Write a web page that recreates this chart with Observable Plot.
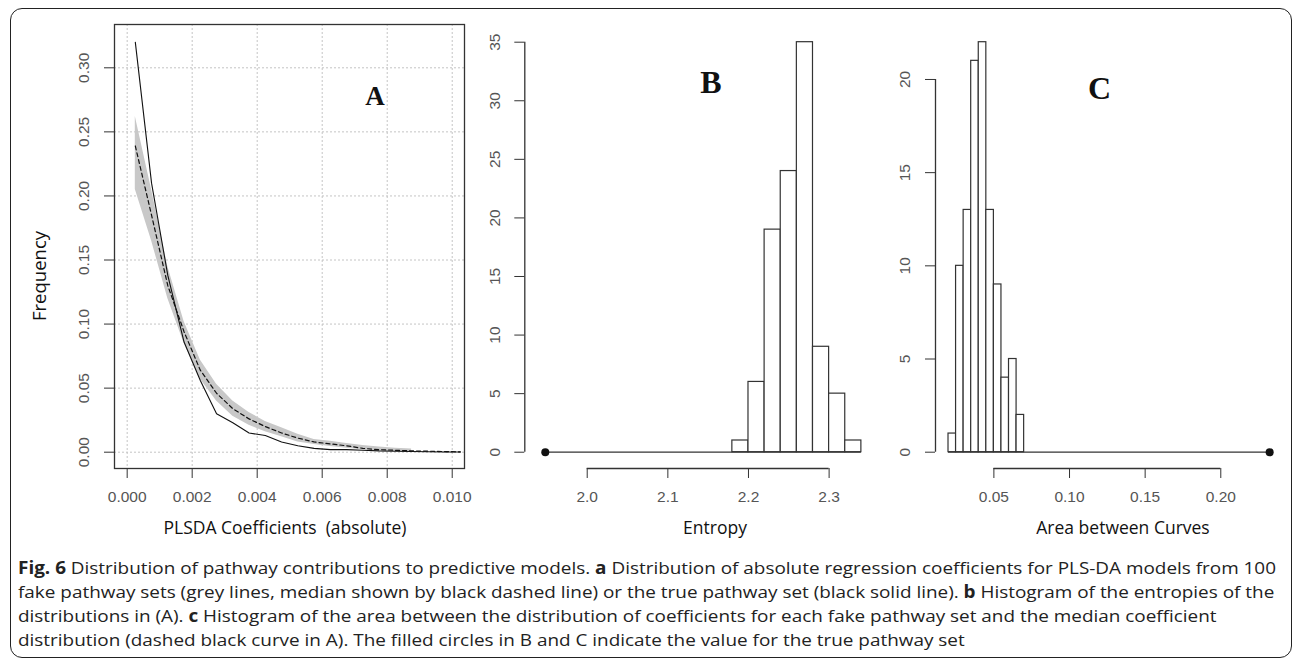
<!DOCTYPE html>
<html><head><meta charset="utf-8">
<script src="https://cdn.jsdelivr.net/npm/d3@7"></script>
<script src="https://cdn.jsdelivr.net/npm/@observablehq/plot@0.6"></script>
<style>
html,body{margin:0;padding:0;background:#fff;}
#root{position:relative;width:1295px;height:664px;overflow:hidden;background:#fff;}
#border{position:absolute;left:10px;top:8px;width:1282px;height:650px;border:1.5px solid #222;border-radius:12px;box-sizing:border-box;}
.panel{position:absolute;top:0;}
#overlay{position:absolute;left:0;top:0;}
</style></head><body><div id="root"><div id="border"></div></div>
<script>
// ---------- Panel A data ----------
const xA = [0.00025,0.00075,0.00125,0.00175,0.00225,0.00275,0.00325,0.00375,0.00425,0.00475,0.00525,0.00575,0.00625,0.00675,0.00725,0.00775,0.00825,0.00875,0.00925,0.00975,0.01025];
const trueA = [0.320,0.210,0.138,0.086,0.056,0.030,0.023,0.015,0.013,0.008,0.005,0.003,0.002,0.002,0.0015,0.001,0.0008,0.0005,0.0003,0.0002,0.0001];
const medianA = [0.239,0.185,0.130,0.094,0.064,0.046,0.034,0.026,0.020,0.015,0.011,0.008,0.0065,0.005,0.003,0.002,0.0015,0.001,0.0008,0.0005,0.0003];
const fakeLoA = [0.205,0.165,0.120,0.085,0.057,0.040,0.028,0.021,0.016,0.012,0.008,0.006,0.0045,0.003,0.002,0.0012,0.0008,0.0005];
const fakeHiA = [0.262,0.205,0.145,0.102,0.072,0.053,0.040,0.031,0.024,0.019,0.014,0.010,0.0085,0.0068,0.0052,0.004,0.003,0.0025];
const xTicksA = [0,0.002,0.004,0.006,0.008,0.010];
const yTicksA = [0,0.05,0.10,0.15,0.20,0.25,0.30];

// ---------- Panel B data ----------
const binEdgesB = [2.18,2.20,2.22,2.24,2.26,2.28,2.30,2.32,2.34];
const countsB = [1,6,19,24,35,9,5,1];
const trueB = 1.948;
const xTicksB = [2.0,2.1,2.2,2.3];
const yTicksB = [0,5,10,15,20,25,30,35];

// ---------- Panel C data ----------
const binEdgesC = [0.020,0.025,0.030,0.035,0.040,0.045,0.050,0.055,0.060,0.065,0.070];
const countsC = [1,10,13,21,22,13,9,4,5,2];
const trueC = 0.2323;
const xTicksC = [0.05,0.10,0.15,0.20];
const yTicksC = [0,5,10,15,20];

const tickFamily = "'Liberation Sans', Arial, sans-serif";
const tickColor = "#555";
const axisColor = "#333";
const tickFS = 15.5;

function baseStyle(){
  return {background:"transparent", fontFamily:tickFamily, fontSize:tickFS+"px", color:axisColor, overflow:"visible"};
}
function yLabels(ticks, fmt){
  return Plot.text(ticks, {y:d=>d, text:fmt, frameAnchor:"left", textAnchor:"middle", lineAnchor:"middle", dx:-30, rotate:-90, fill:tickColor, fontSize:tickFS});
}
function xAxis(ticks, fmt){
  return Plot.axisX({ticks, tickSize:10, tickPadding:12, tickFormat:fmt, label:null, fill:tickColor, stroke:axisColor, fontSize:tickFS});
}

const root = document.getElementById("root");
function place(svg, left){ svg.classList.add("panel"); svg.style.left = left+"px"; root.appendChild(svg); }

// Panel A
const linesA = xA.map((x,i)=>({x, t:trueA[i], m:medianA[i]}));
const bandA = fakeLoA.map((lo,i)=>({x:xA[i], lo, hi:fakeHiA[i]}));
const plotA = Plot.plot({
  width:480, height:540, marginLeft:114, marginRight:16, marginTop:24, marginBottom:72,
  style: baseStyle(),
  x:{domain:[-0.00039,0.010378]},
  y:{domain:[-0.01272,0.3338]},
  marks:[
    Plot.gridX({ticks:xTicksA, stroke:"#c4c4c4", strokeOpacity:1, strokeDasharray:"2,2"}),
    Plot.gridY({ticks:yTicksA, stroke:"#c4c4c4", strokeOpacity:1, strokeDasharray:"2,2"}),
    Plot.areaY(bandA, {x:"x", y1:"lo", y2:"hi", fill:"#c8c8c8"}),
    Plot.line(linesA, {x:"x", y:"t", stroke:"#111", strokeWidth:1.1}),
    Plot.line(linesA, {x:"x", y:"m", stroke:"#111", strokeWidth:1.2, strokeDasharray:"4,3"}),
    Plot.frame({stroke:axisColor, strokeWidth:1.3}),
    xAxis(xTicksA, d3.format(".3f")),
    Plot.axisY({ticks:yTicksA, tickSize:10, tickFormat:()=>"", label:null, stroke:axisColor}),
    yLabels(yTicksA, d3.format(".2f"))
  ]
});
place(plotA, 0);

// Panel B
const rectsB = countsB.map((n,i)=>({x1:binEdgesB[i], x2:binEdgesB[i+1], n}));
const xDomB = [1.9226, 2.36], yDomB = [-1.39, 36.51];
const plotB = Plot.plot({
  width:420, height:540, marginLeft:44.3, marginRight:23, marginTop:24, marginBottom:72,
  style: baseStyle(),
  x:{domain:xDomB}, y:{domain:yDomB},
  marks:[
    Plot.rectY(rectsB, {x1:"x1", x2:"x2", y1:()=>0, y2:"n", fill:"white", stroke:axisColor, strokeWidth:1.2}),
    Plot.ruleY([{y:0, x1:trueB, x2:binEdgesB[binEdgesB.length-1]}], {y:"y", x1:"x1", x2:"x2", stroke:axisColor, strokeWidth:1.3}),
    Plot.dot([{x:trueB, y:0}], {x:"x", y:"y", r:4, fill:"#111"}),
    Plot.ruleY([{y:yDomB[0], x1:xTicksB[0], x2:xTicksB[xTicksB.length-1]}], {y:"y", x1:"x1", x2:"x2", stroke:axisColor, strokeWidth:1.3}),
    Plot.ruleX([{x:xDomB[0], y1:yTicksB[0], y2:yTicksB[yTicksB.length-1]}], {x:"x", y1:"y1", y2:"y2", stroke:axisColor, strokeWidth:1.3}),
    xAxis(xTicksB, d3.format(".1f")),
    Plot.axisY({ticks:yTicksB, tickSize:10, tickFormat:()=>"", label:null, stroke:axisColor}),
    yLabels(yTicksB, d3.format("d"))
  ]
});
place(plotB, 480);

// Panel C
const rectsC = countsC.map((n,i)=>({x1:binEdgesC[i], x2:binEdgesC[i+1], n}));
const xDomC = [0.0114, 0.2408], yDomC = [-0.875, 22.95];
const plotC = Plot.plot({
  width:395, height:540, marginLeft:35, marginRight:13, marginTop:24, marginBottom:72,
  style: baseStyle(),
  x:{domain:xDomC}, y:{domain:yDomC},
  marks:[
    Plot.rectY(rectsC, {x1:"x1", x2:"x2", y1:()=>0, y2:"n", fill:"white", stroke:axisColor, strokeWidth:1.2}),
    Plot.ruleY([{y:0, x1:binEdgesC[0], x2:trueC}], {y:"y", x1:"x1", x2:"x2", stroke:axisColor, strokeWidth:1.3}),
    Plot.dot([{x:trueC, y:0}], {x:"x", y:"y", r:4, fill:"#111"}),
    Plot.ruleY([{y:yDomC[0], x1:xTicksC[0], x2:xTicksC[xTicksC.length-1]}], {y:"y", x1:"x1", x2:"x2", stroke:axisColor, strokeWidth:1.3}),
    Plot.ruleX([{x:xDomC[0], y1:yTicksC[0], y2:yTicksC[yTicksC.length-1]}], {x:"x", y1:"y1", y2:"y2", stroke:axisColor, strokeWidth:1.3}),
    xAxis(xTicksC, d3.format(".2f")),
    Plot.axisY({ticks:yTicksC, tickSize:10, tickFormat:()=>"", label:null, stroke:axisColor}),
    yLabels(yTicksC, d3.format("d"))
  ]
});
place(plotC, 900);

// ---------- Text overlay: axis titles, panel letters, caption ----------
const NS = "http://www.w3.org/2000/svg";
const ov = document.createElementNS(NS, "svg");
ov.setAttribute("id","overlay"); ov.setAttribute("width",1295); ov.setAttribute("height",664);
root.appendChild(ov);
function txt(str, attrs){
  const t = document.createElementNS(NS,"text");
  for (const k in attrs) t.setAttribute(k, attrs[k]);
  t.textContent = str; ov.appendChild(t); return t;
}
const titleFont = "'Open Sans', 'Noto Sans', sans-serif";
txt("Frequency", {x:0, y:0, transform:"translate(38,276) rotate(-90)", "text-anchor":"middle", "dominant-baseline":"central", "font-family":titleFont, "font-size":18.5, fill:"#111"});
const axisTitles = [["PLSDA Coefficients  (absolute)", 285], ["Entropy", 715], ["Area between Curves", 1123]];
for (const [s, cx] of axisTitles) txt(s, {x:cx, y:534, "text-anchor":"middle", "font-family":titleFont, "font-size":17.5, fill:"#111", style:"white-space:pre"});
const panelLetters = [["A", 375, 105, 27], ["B", 711, 93, 32], ["C", 1099.5, 98.5, 32]];
for (const [s, cx, by, fs] of panelLetters) txt(s, {x:cx, y:by, "text-anchor":"middle", "font-family":"'Liberation Serif', 'Times New Roman', serif", "font-weight":"bold", "font-size":fs, fill:"#111"});

const captionLines = [
  [["Fig. 6", true], [" Distribution of pathway contributions to predictive models. ", false], ["a", true], [" Distribution of absolute regression coefficients for PLS-DA models from 100", false]],
  [["fake pathway sets (grey lines, median shown by black dashed line) or the true pathway set (black solid line). ", false], ["b", true], [" Histogram of the entropies of the", false]],
  [["distributions in (A). ", false], ["c", true], [" Histogram of the area between the distribution of coefficients for each fake pathway set and the median coefficient", false]],
  [["distribution (dashed black curve in A). The filled circles in B and C indicate the value for the true pathway set", false]]
];
const captionLine1Width = 1258;
const captionY = [574, 598, 622, 646];
const capEls = captionLines.map((parts, i) => {
  const t = document.createElementNS(NS, "text");
  t.setAttribute("x", 18); t.setAttribute("y", captionY[i]);
  t.setAttribute("font-family", titleFont); t.setAttribute("font-size", 17); t.setAttribute("fill", "#222");
  t.setAttribute("style", "white-space:pre");
  for (const [s, b] of parts) {
    const sp = document.createElementNS(NS, "tspan");
    if (b) sp.setAttribute("font-weight", "bold");
    sp.textContent = s; t.appendChild(sp);
  }
  ov.appendChild(t);
  return t;
});
const natural = capEls.map(t => t.getComputedTextLength());
const ratio = captionLine1Width / natural[0];
capEls.forEach((t, i) => {
  t.setAttribute("textLength", natural[i] * ratio);
  t.setAttribute("lengthAdjust", "spacingAndGlyphs");
});
</script></body></html>
